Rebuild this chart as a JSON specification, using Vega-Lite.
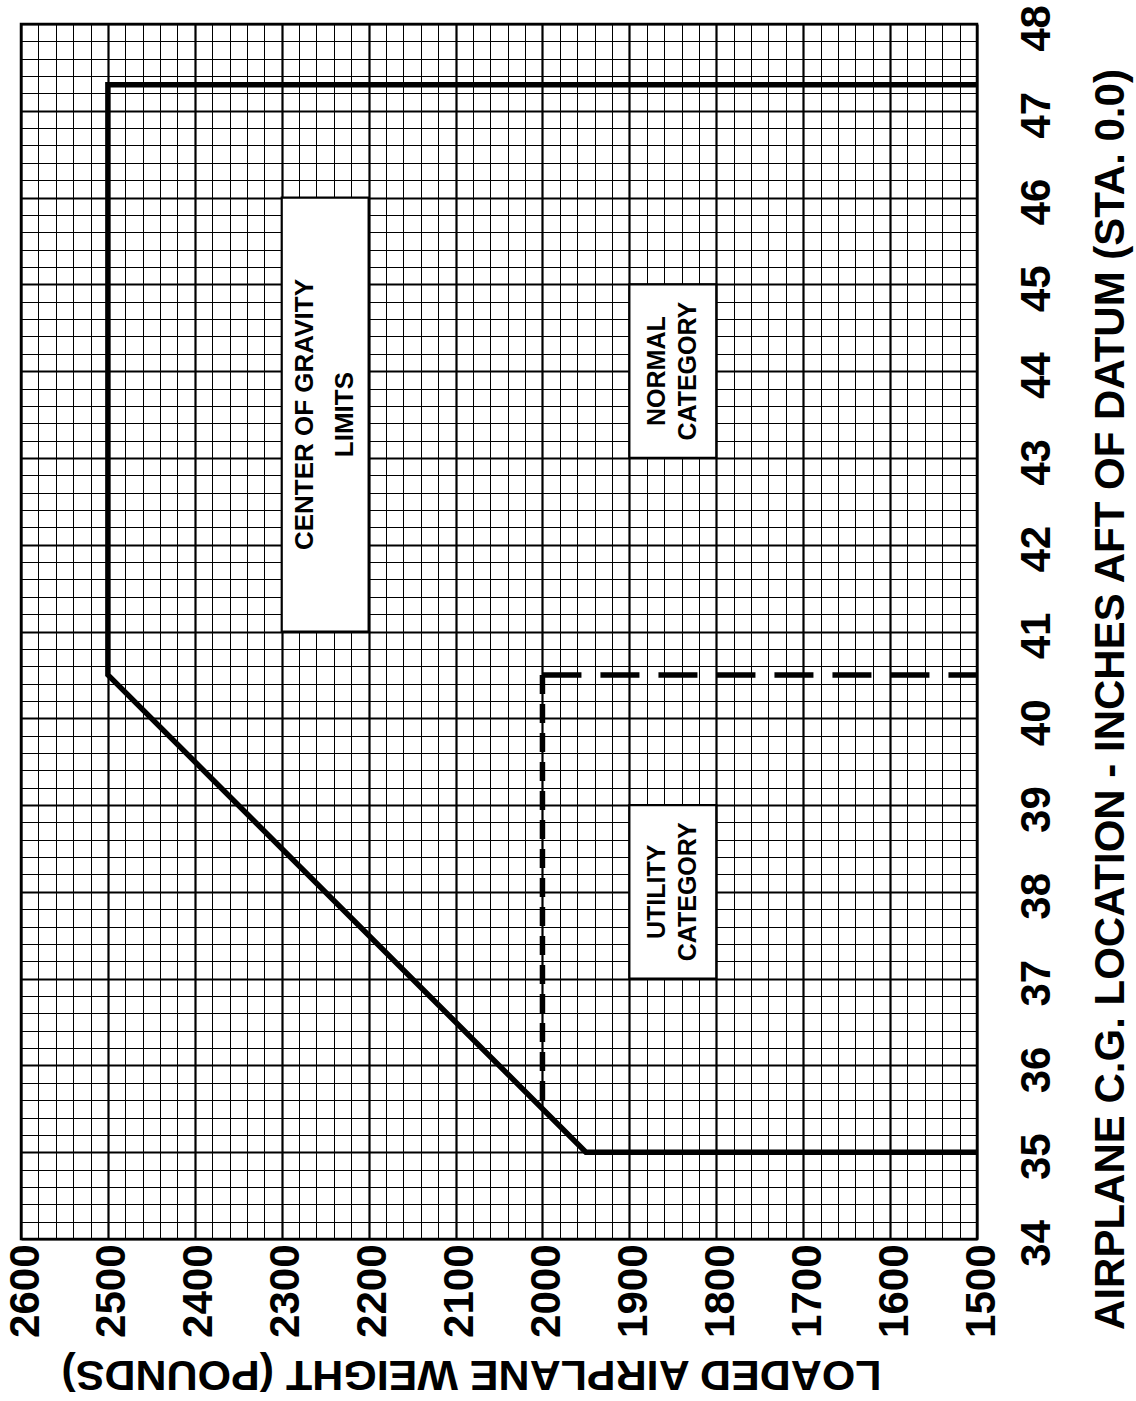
{
  "$schema": "https://vega.github.io/schema/vega-lite/v6.json",
  "width": 956,
  "height": 1215,
  "autosize": {"type": "none"},
  "padding": {"left": 21, "top": 24, "right": 159, "bottom": 162},
  "background": "white",
  "config": {
    "view": {"stroke": "black", "strokeWidth": 2.5},
    "font": "Liberation Sans"
  },
  "datasets": {
    "boxes": [
      {"box": "cg", "w1": 2200, "w2": 2300, "cg1": 41, "cg2": 46},
      {"box": "normal", "w1": 1800, "w2": 1900, "cg1": 43, "cg2": 45},
      {"box": "utility", "w1": 1800, "w2": 1900, "cg1": 37, "cg2": 39}
    ],
    "envelope": [
      {"seq": 1, "weight": 1500, "cg": 35.0},
      {"seq": 2, "weight": 1950, "cg": 35.0},
      {"seq": 3, "weight": 2500, "cg": 40.5},
      {"seq": 4, "weight": 2500, "cg": 47.3},
      {"seq": 5, "weight": 1500, "cg": 47.3}
    ],
    "utility": [
      {"part": "vertical", "seq": 1, "weight": 2000, "cg": 40.5},
      {"part": "vertical", "seq": 2, "weight": 2000, "cg": 35.5},
      {"part": "horizontal", "seq": 1, "weight": 2000, "cg": 40.5},
      {"part": "horizontal", "seq": 2, "weight": 1500, "cg": 40.5}
    ],
    "title": [
      {"weight": 2250, "cg": 43.5, "label": "CENTER OF GRAVITY\nLIMITS"}
    ],
    "categories": [
      {"weight": 1850, "cg": 44, "label": "NORMAL\nCATEGORY"},
      {"weight": 1850, "cg": 38, "label": "UTILITY\nCATEGORY"}
    ]
  },
  "layer": [
    {
      "data": {"name": "boxes"},
      "mark": {"type": "rect", "fill": "white", "stroke": "black", "strokeWidth": 2.2},
      "encoding": {
        "x": {
          "field": "w1", "type": "quantitative",
          "scale": {"domain": [1500, 2600], "reverse": true, "nice": false, "zero": false},
          "axis": {
            "title": "LOADED AIRPLANE WEIGHT (POUNDS)",
            "values": [1500,1520,1540,1560,1580,1600,1620,1640,1660,1680,1700,1720,1740,1760,1780,1800,1820,1840,1860,1880,1900,1920,1940,1960,1980,2000,2020,2040,2060,2080,2100,2120,2140,2160,2180,2200,2220,2240,2260,2280,2300,2320,2340,2360,2380,2400,2420,2440,2460,2480,2500,2520,2540,2560,2580,2600],
            "tickCount": 1000,
            "labelExpr": "datum.value % 100 === 0 ? format(datum.value, 'd') : ''",
            "labelOverlap": false,
            "labelFlush": false,
            "labelAngle": 270,
            "labelAlign": "right",
            "labelBaseline": "middle",
            "labelPadding": 5,
            "labelOffset": 4,
            "labelFont": "Liberation Sans",
            "labelFontSize": 42,
            "labelFontWeight": "bold",
            "labelColor": "black",
            "ticks": false,
            "tickSize": 0,
            "domain": false,
            "grid": true,
            "gridColor": "black",
            "gridOpacity": 1,
            "gridWidth": {"condition": {"test": "datum.value % 100 === 0", "value": 2.2}, "value": 1},
            "titleFont": "Liberation Sans",
            "titleFontSize": 43,
            "titleFontWeight": "bold",
            "titleColor": "black",
            "titleAngle": 180,
            "titleAlign": "center",
            "titleBaseline": "middle",
            "titleX": 450,
            "titleY": 134,
            "titleLimit": 2000
          }
        },
        "x2": {"field": "w2"},
        "y": {
          "field": "cg1", "type": "quantitative",
          "scale": {"domain": [34, 48], "nice": false, "zero": false},
          "axis": {
            "orient": "right",
            "title": "AIRPLANE C.G. LOCATION - INCHES AFT OF DATUM (STA. 0.0)",
            "values": [34,34.2,34.4,34.6,34.8,35,35.2,35.4,35.6,35.8,36,36.2,36.4,36.6,36.8,37,37.2,37.4,37.6,37.8,38,38.2,38.4,38.6,38.8,39,39.2,39.4,39.6,39.8,40,40.2,40.4,40.6,40.8,41,41.2,41.4,41.6,41.8,42,42.2,42.4,42.6,42.8,43,43.2,43.4,43.6,43.8,44,44.2,44.4,44.6,44.8,45,45.2,45.4,45.6,45.8,46,46.2,46.4,46.6,46.8,47,47.2,47.4,47.6,47.8,48],
            "tickCount": 1000,
            "labelExpr": "abs(datum.value - round(datum.value)) < 0.001 ? format(round(datum.value), 'd') : ''",
            "labelOverlap": false,
            "labelFlush": false,
            "labelAngle": 270,
            "labelAlign": "center",
            "labelBaseline": "middle",
            "labelPadding": 59,
            "labelOffset": 4,
            "labelFont": "Liberation Sans",
            "labelFontSize": 42,
            "labelFontWeight": "bold",
            "labelColor": "black",
            "ticks": false,
            "tickSize": 0,
            "domain": false,
            "grid": true,
            "gridColor": "black",
            "gridOpacity": 1,
            "gridWidth": {"condition": {"test": "abs(datum.value - round(datum.value)) < 0.001", "value": 2.2}, "value": 1},
            "titleFont": "Liberation Sans",
            "titleFontSize": 42,
            "titleFontWeight": "bold",
            "titleColor": "black",
            "titleAngle": 270,
            "titleAlign": "center",
            "titleBaseline": "middle",
            "titleX": 133,
            "titleY": 675,
            "titleLimit": 2000
          }
        },
        "y2": {"field": "cg2"}
      }
    },
    {
      "data": {"name": "envelope"},
      "mark": {"type": "line", "stroke": "black", "strokeWidth": 5.5, "strokeJoin": "miter"},
      "encoding": {
        "x": {"field": "weight", "type": "quantitative"},
        "y": {"field": "cg", "type": "quantitative"},
        "order": {"field": "seq", "type": "quantitative"}
      }
    },
    {
      "data": {"name": "utility"},
      "mark": {"type": "line", "stroke": "black", "strokeWidth": 5.5},
      "encoding": {
        "x": {"field": "weight", "type": "quantitative"},
        "y": {"field": "cg", "type": "quantitative"},
        "order": {"field": "seq", "type": "quantitative"},
        "detail": {"field": "part", "type": "nominal"},
        "strokeDash": {
          "field": "part", "type": "nominal",
          "scale": {"domain": ["vertical", "horizontal"], "range": [[19, 10], [39, 19]]},
          "legend": null
        }
      }
    },
    {
      "data": {"name": "title"},
      "mark": {"type": "text", "angle": 270, "align": "center", "baseline": "middle", "dy": -20, "lineBreak": "\n", "lineHeight": 40, "font": "Liberation Sans", "fontSize": 26, "fontWeight": "bold", "color": "black"},
      "encoding": {
        "x": {"field": "weight", "type": "quantitative"},
        "y": {"field": "cg", "type": "quantitative"},
        "text": {"field": "label", "type": "nominal"}
      }
    },
    {
      "data": {"name": "categories"},
      "mark": {"type": "text", "angle": 270, "align": "center", "baseline": "middle", "dy": -15.5, "lineBreak": "\n", "lineHeight": 31, "font": "Liberation Sans", "fontSize": 25, "fontWeight": "bold", "color": "black"},
      "encoding": {
        "x": {"field": "weight", "type": "quantitative"},
        "y": {"field": "cg", "type": "quantitative"},
        "text": {"field": "label", "type": "nominal"}
      }
    }
  ]
}
